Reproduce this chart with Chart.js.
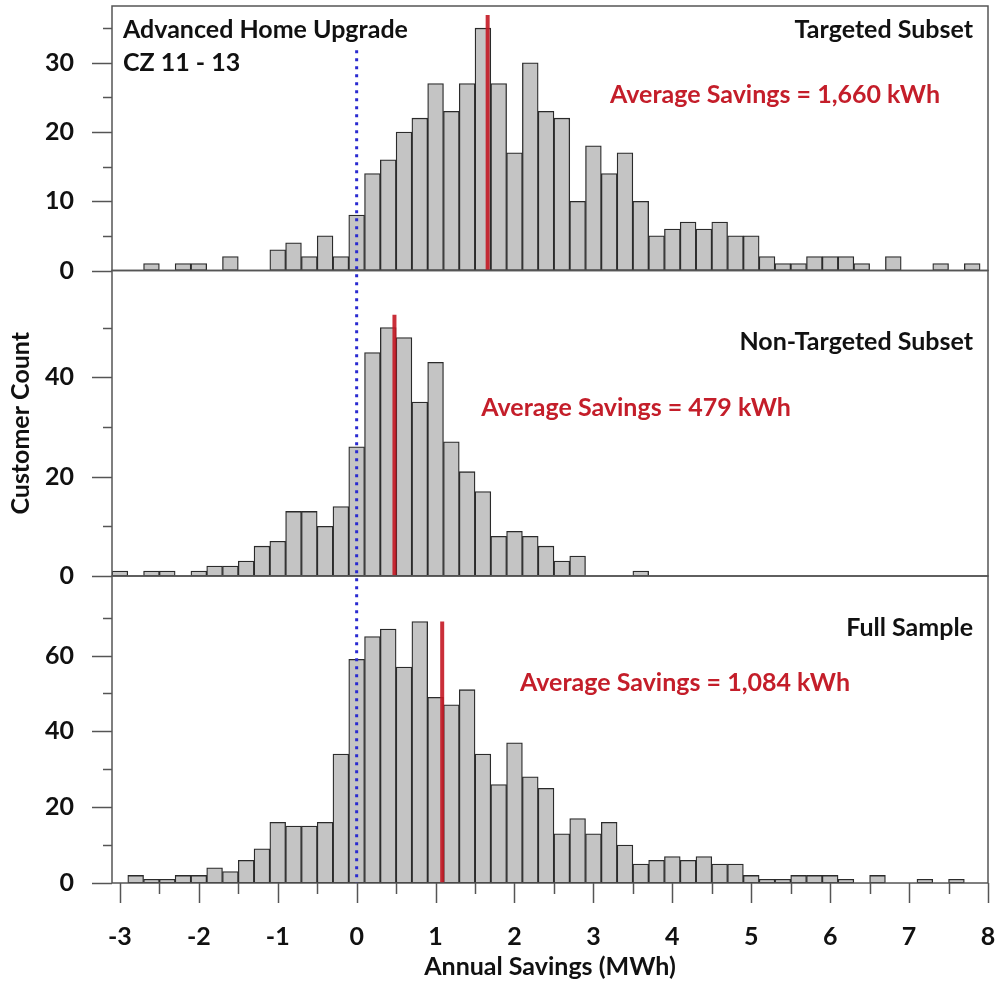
<!DOCTYPE html>
<html>
<head>
<meta charset="utf-8">
<script src="https://cdn.jsdelivr.net/npm/chart.js@4.4.1/dist/chart.umd.min.js"></script>
<style>
  html, body { margin: 0; padding: 0; background: #fff; }
</style>
</head>
<body>
<canvas id="myChart" width="996" height="987"></canvas>
<script>
// DATA
// histogram bins (MWh), 0.2 wide, centred on these values
const binCenters = [
  -3.0, -2.8, -2.6, -2.4, -2.2, -2.0, -1.8, -1.6, -1.4, -1.2,
  -1.0, -0.8, -0.6, -0.4, -0.2, 0.0, 0.2, 0.4, 0.6, 0.8,
  1.0, 1.2, 1.4, 1.6, 1.8, 2.0, 2.2, 2.4, 2.6, 2.8,
  3.0, 3.2, 3.4, 3.6, 3.8, 4.0, 4.2, 4.4, 4.6, 4.8,
  5.0, 5.2, 5.4, 5.6, 5.8, 6.0, 6.2, 6.4, 6.6, 6.8,
  7.0, 7.2, 7.4, 7.6, 7.8
];
const targeted = [
  0, 0, 1, 0, 1, 1, 0, 2, 0, 0,
  3, 4, 2, 5, 2, 8, 14, 16, 20, 22,
  27, 23, 27, 35, 27, 17, 30, 23, 22, 10,
  18, 14, 17, 10, 5, 6, 7, 6, 7, 5,
  5, 2, 1, 1, 2, 2, 2, 1, 0, 2,
  0, 0, 1, 0, 1
];
const nonTargeted = [
  1, 0, 1, 1, 0, 1, 2, 2, 3, 6,
  7, 13, 13, 10, 14, 26, 45, 50, 48, 35,
  43, 27, 21, 17, 8, 9, 8, 6, 3, 4,
  0, 0, 0, 1, 0, 0, 0, 0, 0, 0,
  0, 0, 0, 0, 0, 0, 0, 0, 0, 0,
  0, 0, 0, 0, 0
];
const fullSample = [
  0, 2, 1, 1, 2, 2, 4, 3, 6, 9,
  16, 15, 15, 16, 34, 59, 65, 67, 57, 69,
  49, 47, 51, 34, 26, 37, 28, 25, 13, 17,
  13, 16, 10, 5, 6, 7, 6, 7, 5, 5,
  2, 1, 1, 2, 2, 2, 1, 0, 2, 0,
  0, 1, 0, 1, 0
];
const panelNames = ["Targeted Subset", "Non-Targeted Subset", "Full Sample"];
const avgSavingsKWh = [1660, 479, 1084];
const avgLineTops = [36.9, 52.6, 69];
const yMax = [38.2, 61.5, 81];
const yTicks = [[0, 5, 10, 15, 20, 25, 30, 35], [0, 10, 20, 30, 40, 50], [0, 10, 20, 30, 40, 50, 60, 70]];
const yTickLabels = [[0, 10, 20, 30], [0, 20, 40], [0, 20, 40, 60]];
const xTicks = [-3, -2.5, -2, -1.5, -1, -0.5, 0, 0.5, 1, 1.5, 2, 2.5, 3, 3.5, 4, 4.5, 5, 5.5, 6, 6.5, 7, 7.5, 8];
const xTickLabels = [-3, -2, -1, 0, 1, 2, 3, 4, 5, 6, 7, 8];

const axisIds = ["yTop", "yMid", "yBot"];
const series = [targeted, nonTargeted, fullSample];
const FONT = "Lato";
const RED = "#c41e2a";

// bars + average lines
const datasets = [];
series.forEach((vals, i) => {
  datasets.push({
    type: "bar",
    label: panelNames[i],
    yAxisID: axisIds[i],
    data: binCenters.map((x, j) => ({x: x, y: vals[j]})),
    backgroundColor: "#c4c4c4",
    borderColor: "#2b2b2b",
    borderWidth: 1.3,
    borderSkipped: false,
    barPercentage: 1,
    categoryPercentage: 1,
    grouped: false,
    order: 2
  });
});
avgSavingsKWh.forEach((kwh, i) => {
  datasets.push({
    type: "line",
    yAxisID: axisIds[i],
    data: [{x: kwh / 1000, y: 0}, {x: kwh / 1000, y: avgLineTops[i]}],
    borderColor: "rgba(196, 24, 36, 0.9)",
    borderWidth: 4,
    pointRadius: 0,
    order: 1
  });
});

function noPadding(axis) {
  axis.paddingTop = 0;
  axis.paddingBottom = 0;
  axis.paddingLeft = 0;
  axis.paddingRight = 0;
}

function yAxis(i) {
  return {
    type: "linear",
    position: "left",
    stack: "panels",
    stackWeight: [264.5, 305.5, 307][i],
    weight: 3 - i,
    min: 0,
    max: yMax[i],
    grid: {display: false},
    border: {display: false},
    afterBuildTicks: (axis) => { axis.ticks = yTicks[i].map(v => ({value: v})); },
    afterFit: (axis) => { axis.width = 112; noPadding(axis); },
    ticks: {
      padding: 30,
      color: "#111",
      font: {family: FONT, size: 25, weight: "bold"},
      callback: (v) => yTickLabels[i].includes(v) ? String(v) : ""
    },
    title: {
      display: i === 1,
      text: "Customer Count",
      color: "#111",
      padding: {top: 6, bottom: 0},
      font: {family: FONT, size: 25, weight: "bold"}
    }
  };
}

// panel boxes, tick marks, dotted zero line and the text in the panels
const decorations = {
  id: "decorations",
  afterDatasetsDraw(chart) {
    const {ctx, chartArea, scales} = chart;
    const x = scales.x;
    ctx.save();

    // dotted line at zero savings
    const x0 = x.getPixelForValue(0);
    ctx.strokeStyle = "#2a2ad0";
    ctx.lineWidth = 3;
    ctx.setLineDash([3, 5]);
    ctx.beginPath();
    ctx.moveTo(x0, scales.yTop.getPixelForValue(31.8));
    ctx.lineTo(x0, scales.yBot.getPixelForValue(0));
    ctx.stroke();
    ctx.setLineDash([]);

    // frames
    ctx.strokeStyle = "#555";
    ctx.lineWidth = 1.5;
    axisIds.forEach(id => {
      const s = scales[id];
      ctx.strokeRect(chartArea.left, s.top, chartArea.right - chartArea.left, s.bottom - s.top);
    });

    // y tick marks
    axisIds.forEach((id, i) => {
      const s = scales[id];
      yTicks[i].forEach(v => {
        const len = yTickLabels[i].includes(v) ? 20 : 9;
        const py = Math.round(s.getPixelForValue(v)) + 0.5;
        ctx.beginPath();
        ctx.moveTo(chartArea.left - len, py);
        ctx.lineTo(chartArea.left, py);
        ctx.stroke();
      });
    });

    // x tick marks
    xTicks.forEach(v => {
      const len = xTickLabels.includes(v) ? 20 : 11;
      const px = Math.round(x.getPixelForValue(v)) + 0.5;
      ctx.beginPath();
      ctx.moveTo(px, chartArea.bottom);
      ctx.lineTo(px, chartArea.bottom + len);
      ctx.stroke();
    });

    // texts
    ctx.font = "bold 25px " + FONT;
    ctx.textBaseline = "middle";
    ctx.fillStyle = "#111";
    ctx.textAlign = "left";
    ctx.fillText("Advanced Home Upgrade", chartArea.left + 11, scales.yTop.top + 24);
    ctx.fillText("CZ 11 - 13", chartArea.left + 11, scales.yTop.top + 57);

    const nameY = [24, 71, 52];
    const avgX = [663, 524, 573];
    const avgY = [89, 137, 107];
    axisIds.forEach((id, i) => {
      const s = scales[id];
      ctx.fillStyle = "#111";
      ctx.textAlign = "right";
      ctx.fillText(panelNames[i], chartArea.right - 15, s.top + nameY[i]);
      ctx.fillStyle = RED;
      ctx.textAlign = "center";
      ctx.fillText("Average Savings = " + avgSavingsKWh[i].toLocaleString("en-US") + " kWh",
        chartArea.left + avgX[i], s.top + avgY[i]);
    });
    ctx.restore();
  }
};

const config = {
  type: "bar",
  data: {datasets: datasets},
  options: {
    responsive: false,
    animation: false,
    layout: {padding: {top: 6, right: 8, left: 0, bottom: 0}},
    plugins: {legend: {display: false}, tooltip: {enabled: false}},
    scales: {
      x: {
        type: "linear",
        min: -3.1,
        max: 8,
        offset: false,
        grid: {display: false},
        border: {display: false},
        afterBuildTicks: (axis) => { axis.ticks = xTicks.map(v => ({value: v})); },
        afterFit: (axis) => { axis.height = 104; noPadding(axis); },
        ticks: {
          autoSkip: false,
          maxRotation: 0,
          padding: 31,
          color: "#111",
          font: {family: FONT, size: 25, weight: "bold"},
          callback: (v) => xTickLabels.includes(v) ? String(v) : ""
        },
        title: {
          display: true,
          text: "Annual Savings (MWh)",
          color: "#111",
          padding: {top: 0, bottom: 5},
          font: {family: FONT, size: 25, weight: "bold"}
        }
      },
      yTop: yAxis(0),
      yMid: yAxis(1),
      yBot: yAxis(2)
    }
  },
  plugins: [decorations]
};

new Chart(document.getElementById("myChart"), config);
</script>
</body>
</html>
